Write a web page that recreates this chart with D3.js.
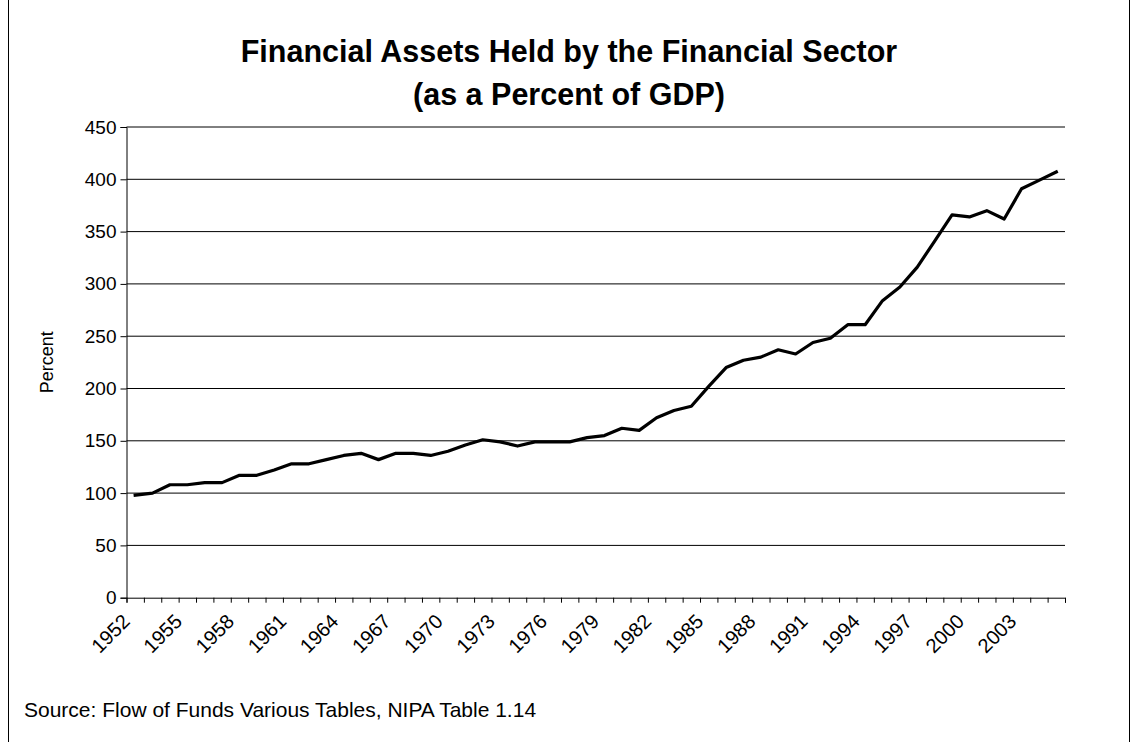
<!DOCTYPE html>
<html><head><meta charset="utf-8">
<script src="https://cdn.jsdelivr.net/npm/d3@7"></script>
<style>body{margin:0;background:#fff}svg{display:block}</style>
</head><body>
<svg id="c" width="1132" height="742"></svg>
<script>
const years = ["1952","1953","1954","1955","1956","1957","1958","1959","1960","1961","1962","1963","1964","1965","1966","1967","1968","1969","1970","1971","1972","1973","1974","1975","1976","1977","1978","1979","1980","1981","1982","1983","1984","1985","1986","1987","1988","1989","1990","1991","1992","1993","1994","1995","1996","1997","1998","1999","2000","2001","2002","2003","2004","2005"];
const values = [98,100,108,108,110,110,117,117,122,128,128,132,136,138,132,138,138,136,140,146,151,149,145,149,149,149,153,155,162,160,172,179,183,202,220,227,230,237,233,244,248,261,261,284,297,316,341,366,364,370,362,391,399,407];
const yTicks = [0,50,100,150,200,250,300,350,400,450];
const xLabels = ["1952","1955","1958","1961","1964","1967","1970","1973","1976","1979","1982","1985","1988","1991","1994","1997","2000","2003"];
const titleLines = ["Financial Assets Held by the Financial Sector","(as a Percent of GDP)"];
const yTitle = "Percent";
const sourceText = "Source: Flow of Funds Various Tables, NIPA Table 1.14";

const FONT = "'Liberation Sans', Arial, Helvetica, sans-serif";
const svg = d3.select("#c");
const pL = 126.5, pR = 1065, pT = 127, pB = 597.7;

const x = d3.scaleBand().domain(years).range([pL, pR]).padding(0);
const edge = d3.scaleLinear().domain([0, years.length]).range([pL, pR]);
const y = d3.scaleLinear().domain([0, 450]).range([pB, pT]);
const cx = d => x(d) + x.bandwidth() / 2;

// border
svg.append("line").attr("x1", 8.5).attr("x2", 8.5).attr("y1", 0).attr("y2", 742).attr("stroke", "#000");
svg.append("line").attr("x1", 1129.5).attr("x2", 1129.5).attr("y1", 0).attr("y2", 742).attr("stroke", "#000");

// gridlines
svg.append("g").selectAll("line").data(yTicks.filter(v => v > 0)).join("line")
  .attr("x1", pL).attr("x2", pR)
  .attr("y1", d => y(d)).attr("y2", d => y(d))
  .attr("stroke", "#000").attr("stroke-width", 1);

// y axis
const gy = svg.append("g").attr("transform", `translate(${pL},0)`)
  .call(d3.axisLeft(y).tickValues(yTicks).tickSize(6).tickPadding(4));
gy.selectAll("text").attr("font-family", FONT).attr("font-size", 19).attr("fill", "#000");
gy.selectAll("line,path").attr("stroke", "#000");

// x axis
const gx = svg.append("g").attr("transform", `translate(0,${pB})`)
  .call(d3.axisBottom(edge).tickValues(d3.range(years.length + 1)).tickSize(5).tickFormat(""));
gx.selectAll("line,path").attr("stroke", "#000");

svg.append("g").selectAll("text").data(xLabels).join("text")
  .attr("transform", d => `translate(${cx(d) - 4},${pB + 25}) rotate(-45)`)
  .attr("text-anchor", "end")
  .attr("font-family", FONT).attr("font-size", 20).attr("fill", "#000")
  .text(d => d);

// line
const line = d3.line().x((d, i) => cx(years[i])).y(d => y(d));
svg.append("path").datum(values).attr("d", line)
  .attr("fill", "none").attr("stroke", "#000").attr("stroke-width", 3.2)
  .attr("stroke-linejoin", "round").attr("stroke-linecap", "square");

// titles
svg.append("g").selectAll("text").data(titleLines).join("text")
  .attr("x", 569).attr("y", (d, i) => 62 + i * 43)
  .attr("text-anchor", "middle").attr("font-family", FONT)
  .attr("font-size", 30.5).attr("font-weight", "bold").attr("fill", "#000")
  .text(d => d);

svg.append("text")
  .attr("transform", `translate(53,${(pT + pB) / 2}) rotate(-90)`)
  .attr("text-anchor", "middle").attr("font-family", FONT).attr("font-size", 18).attr("fill", "#000")
  .text(yTitle);

svg.append("text").attr("x", 24).attr("y", 717)
  .attr("font-family", FONT).attr("font-size", 21).attr("fill", "#000")
  .text(sourceText);
</script>
</body></html>
